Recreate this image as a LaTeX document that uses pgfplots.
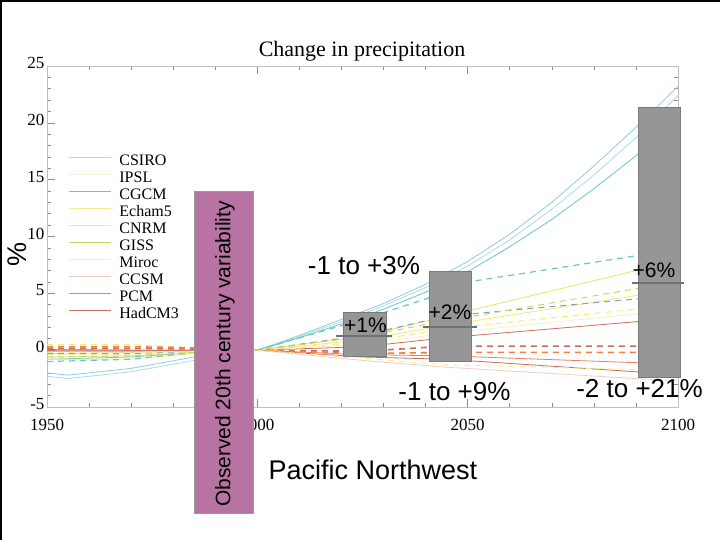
\documentclass[border=0pt]{standalone}
\usepackage{pgfplots}
\pgfplotsset{compat=1.18}
\usepackage{fontspec}
\setmainfont{Liberation Serif}
\newfontfamily\arial{Liberation Sans}

% model colours
\definecolor{csiro}{RGB}{170,220,232}
\definecolor{ipsl}{RGB}{140,205,222}
\definecolor{cgcm}{RGB}{105,200,195}
\definecolor{echam}{RGB}{235,228,95}
\definecolor{cnrm}{RGB}{245,235,110}
\definecolor{giss}{RGB}{205,212,100}
\definecolor{miroc}{RGB}{248,238,205}
\definecolor{ccsm}{RGB}{240,205,195}
\definecolor{pcm}{RGB}{236,125,105}
\definecolor{hadcm}{RGB}{200,112,90}
\definecolor{steel}{RGB}{130,158,198}
\definecolor{boxgray}{RGB}{150,150,150}
\definecolor{boxedge}{RGB}{122,122,122}
\definecolor{medline}{RGB}{105,115,128}
\definecolor{obspurple}{RGB}{183,116,162}

\begin{document}
\begin{tikzpicture}[x=1pt,y=1pt]
\useasboundingbox (0,0) rectangle (720,540);
\fill[white] (0,0) rectangle (720,540);
\draw[black, line width=2pt] (1,0) -- (1,539) -- (720,539);
\begin{axis}[
  at={(47pt,133pt)}, anchor=south west,
  scale only axis, width=631pt, height=341pt,
  xmin=1950, xmax=2100, ymin=-5, ymax=25,
  clip=false,
  xtick={1950,2000,2050,2100},
  minor x tick num=4,
  ytick={-5,0,...,25},
  minor y tick num=4,
  major tick length=8pt, minor tick length=4pt,
  tick align=inside,
  axis line style={black!25},
  tick style={black!45, line width=0.6pt},
  /pgf/number format/assume math mode=true,
  /pgf/number format/1000 sep={},
  ticklabel style={font=\fontsize{17}{17}\selectfont},
  xticklabel style={yshift=-9pt},
  yticklabel style={yshift=3pt, xshift=1pt},
  legend cell align=left,
  legend style={draw=none, fill=none, at={(0.0333,0.743)}, anchor=north west,
    inner sep=0pt, column sep=8pt, row sep=0pt,
    font=\fontsize{16}{16}\selectfont,
    nodes={inner sep=0pt, text height=12pt, text depth=5pt}},
  legend image code/.code={\draw[#1] (0pt,5pt) -- (42pt,5pt);},
]
% legend
\addlegendimage{csiro, line width=1.2pt}\addlegendentry{CSIRO}
\addlegendimage{miroc!80!white, line width=1.2pt}\addlegendentry{IPSL}
\addlegendimage{cgcm, line width=1.2pt}\addlegendentry{CGCM}
\addlegendimage{echam!70!white, line width=1.2pt}\addlegendentry{Echam5}
\addlegendimage{cnrm, line width=1.2pt}\addlegendentry{CNRM}
\addlegendimage{giss, line width=1.2pt}\addlegendentry{GISS}
\addlegendimage{miroc, line width=1.2pt}\addlegendentry{Miroc}
\addlegendimage{ccsm, line width=1.2pt}\addlegendentry{CCSM}
\addlegendimage{pcm, line width=1.2pt}\addlegendentry{PCM}
\addlegendimage{hadcm, line width=1.2pt}\addlegendentry{HadCM3}

% model runs, solid scenario
\addplot[forget plot, ipsl, line width=0.8pt] coordinates {
  (1950,-2.0) (1955,-2.2) (1970,-1.6) (1985,-0.6) (2000,0)
  (2010,1.3) (2020,2.7) (2030,4.1) (2040,5.8) (2050,7.8) (2060,10.2)
  (2070,13.0) (2080,16.2) (2090,19.6) (2100,23.2)};
\addplot[forget plot, csiro, line width=0.8pt] coordinates {
  (1950,-2.3) (1955,-2.5) (1970,-1.9) (1985,-0.9) (2000,0)
  (2010,1.2) (2020,2.5) (2030,3.9) (2040,5.5) (2050,7.4) (2060,9.7)
  (2070,12.4) (2080,15.4) (2090,18.7) (2100,22.4)};
\addplot[forget plot, cgcm, line width=0.8pt] coordinates {
  (1950,-0.8) (1970,-0.6) (1985,-0.2) (2000,0)
  (2010,1.1) (2020,2.3) (2030,3.6) (2040,5.1) (2050,6.9) (2060,9.1)
  (2070,11.5) (2080,14.2) (2090,17.1) (2100,20.5)};
\addplot[forget plot, echam, line width=0.8pt] coordinates {
  (1950,-0.6) (1970,-0.5) (1985,-0.2) (2000,0)
  (2025,1.2) (2045,3.0) (2090,7.0) (2100,7.8)};
\addplot[forget plot, cnrm, line width=0.8pt] coordinates {
  (1950,-0.8) (1970,-0.8) (1985,-0.3) (2000,0)
  (2025,0.9) (2045,2.2) (2090,4.8) (2100,5.2)};
\addplot[forget plot, hadcm, line width=0.8pt] coordinates {
  (1950,0.0) (1970,0.0) (1985,0.0) (2000,0)
  (2025,0.3) (2045,1.1) (2090,2.5) (2100,2.8)};
\addplot[forget plot, pcm, line width=0.8pt] coordinates {
  (1950,-0.1) (1970,-0.1) (1985,0.0) (2000,0)
  (2025,-0.4) (2045,-0.5) (2090,-1.1) (2100,-1.2)};
\addplot[forget plot, pcm!85!black, line width=0.8pt] coordinates {
  (1950,0.05) (1970,0.0) (1985,0.0) (2000,0)
  (2025,-0.6) (2045,-0.8) (2090,-1.9) (2100,-2.1)};
\addplot[forget plot, ccsm, line width=0.8pt] coordinates {
  (1950,-0.3) (1970,-0.2) (1985,-0.1) (2000,0)
  (2025,-0.9) (2045,-1.5) (2090,-2.5) (2100,-2.7)};
\addplot[forget plot, miroc, line width=0.8pt] coordinates {
  (1950,-0.4) (1970,-0.4) (1985,-0.1) (2000,0)
  (2025,0.5) (2045,1.5) (2090,3.2) (2100,3.5)};

% model runs, dashed scenario
\addplot[forget plot, cgcm, line width=1.2pt, dash pattern=on 6pt off 5pt] coordinates {
  (1950,-1.0) (1970,-0.8) (1985,-0.2) (2000,0)
  (2025,2.7) (2040,4.5) (2050,6.0) (2090,8.3) (2100,8.5)};
\addplot[forget plot, steel, line width=1pt, dash pattern=on 6pt off 5pt] coordinates {
  (1950,-0.3) (1970,-0.3) (1985,-0.1) (2000,0)
  (2025,1.3) (2045,3.0) (2090,4.5) (2100,4.7)};
\addplot[forget plot, giss, line width=1pt, dash pattern=on 6pt off 5pt] coordinates {
  (1950,-0.6) (1970,-0.5) (1985,-0.2) (2000,0)
  (2025,1.2) (2045,2.6) (2090,5.4) (2100,5.8)};
\addplot[forget plot, cnrm, line width=1pt, dash pattern=on 6pt off 5pt] coordinates {
  (1950,0.5) (1970,0.5) (1985,0.2) (2000,0)
  (2025,0.7) (2045,1.9) (2090,3.6) (2100,3.8)};
\addplot[forget plot, hadcm, line width=1.6pt, dash pattern=on 6pt off 5pt] coordinates {
  (1950,0.15) (1970,0.15) (1985,0.1) (2000,0)
  (2025,-0.1) (2045,0.35) (2090,0.35) (2100,0.35)};
\addplot[forget plot, pcm!70!orange, line width=1.6pt, dash pattern=on 6pt off 5pt] coordinates {
  (1950,0.3) (1970,0.3) (1985,0.2) (2000,0)
  (2025,-0.3) (2045,-0.2) (2090,-0.2) (2100,-0.2)};
\addplot[forget plot, cnrm!80!white, line width=1pt, dash pattern=on 6pt off 5pt] coordinates {
  (1950,-0.2) (1970,-0.2) (1985,-0.1) (2000,0)
  (2025,-0.7) (2045,-1.3) (2090,-1.7) (2100,-1.8)};

% observed variability
\addplot[forget plot, fill=obspurple, draw=black!40, line width=0.8pt] coordinates {
  (1985,-14.4) (1999,-14.4) (1999,14.0) (1985,14.0)} -- cycle;

% ranges of change
\addplot[forget plot, fill=boxgray, draw=boxedge, line width=0.8pt] coordinates {
  (2020.5,-0.55) (2030.7,-0.55) (2030.7,3.35) (2020.5,3.35)} -- cycle;
\addplot[forget plot, fill=boxgray, draw=boxedge, line width=0.8pt] coordinates {
  (2041.0,-0.97) (2051.0,-0.97) (2051.0,6.95) (2041.0,6.95)} -- cycle;
\addplot[forget plot, fill=boxgray, draw=boxedge, line width=0.8pt] coordinates {
  (2090.7,-2.38) (2100.5,-2.38) (2100.5,21.4) (2090.7,21.4)} -- cycle;

% medians
\addplot[forget plot, medline, line width=2pt] coordinates {(2018.8,1.23) (2031.9,1.23)};
\addplot[forget plot, medline, line width=2pt] coordinates {(2039.3,2.02) (2052.1,2.02)};
\addplot[forget plot, medline, line width=2pt] coordinates {(2089.0,5.9) (2101.4,5.9)};
\end{axis}

\node at (362,489) {\fontsize{22}{22}\selectfont Change in precipitation};
\node[rotate=90] at (17,285) {\arial\fontsize{27}{27}\selectfont \%};
\node[rotate=90] at (225,186) {\arial\fontsize{21}{21}\selectfont Observed 20th century variability};
\node at (364,274) {\arial\fontsize{26}{26}\selectfont -1 to +3\%};
\node at (365.5,214.5) {\arial\fontsize{21}{21}\selectfont +1\%};
\node at (450,227.5) {\arial\fontsize{21}{21}\selectfont +2\%};
\node at (654,269.5) {\arial\fontsize{21}{21}\selectfont +6\%};
\node at (454.5,148) {\arial\fontsize{26}{26}\selectfont -1 to +9\%};
\node at (639.5,151) {\arial\fontsize{26}{26}\selectfont -2 to +21\%};
\node at (373,70) {\arial\fontsize{27}{27}\selectfont Pacific Northwest};
\end{tikzpicture}
\end{document}
